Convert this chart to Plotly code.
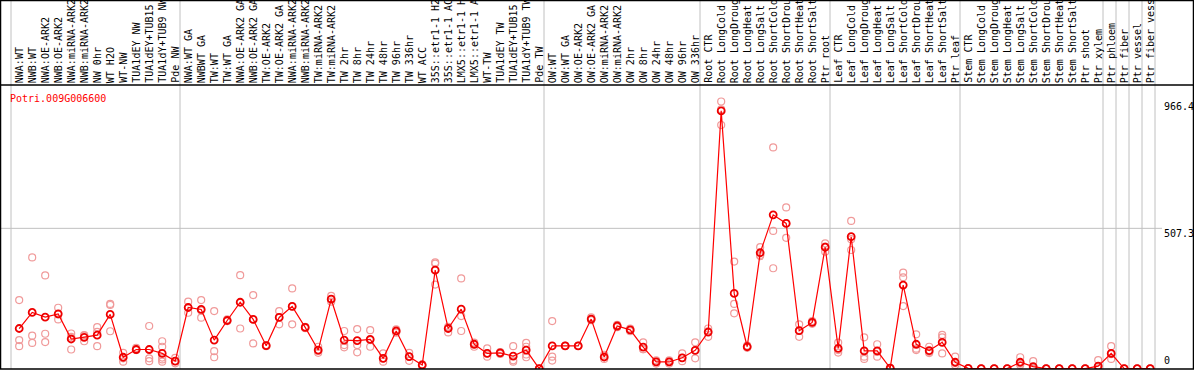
import plotly.graph_objects as go

gene = "Potri.009G006600"

labels = [
    "NWA:WT", "NWB:WT", "NWA:OE-ARK2", "NWB:OE-ARK2", "NWA:miRNA-ARK2", "NWB:miRNA-ARK2",
    "NW 0hr", "WT H2O", "WT-NW", "TUA1dEY NW", "TUA1dEY+TUB15 NW", "TUA1dY+TUB9 NW", "Pde NW",
    "NWA:WT GA", "NWBWT GA", "TW:WT", "TW:WT GA", "NWA:OE-ARK2 GA", "NWB:OE-ARK2 GA",
    "TW:OE-ARK2", "TW:OE-ARK2 GA", "NWA:miRNA-ARK2", "NWB:miRNA-ARK2", "TW:miRNA-ARK2",
    "TW:miRNA-ARK2", "TW 2hr", "TW 8hr", "TW 24hr", "TW 48hr", "TW 96hr", "TW 336hr",
    "WT ACC", "35S::etr1-1 H2O", "35S::etr1-1 ACC", "LMX5::etr1-1 H2O", "LMX5::etr1-1 ACC",
    "WT-TW", "TUA1dEY TW", "TUA1dEY+TUB15 TW", "TUA1dY+TUB9 TW", "Pde TW",
    "OW:WT", "OW:WT GA", "OW:OE-ARK2", "OW:OE-ARK2 GA", "OW:miRNA-ARK2", "OW:miRNA-ARK2",
    "OW 2hr", "OW 8hr", "OW 24hr", "OW 48hr", "OW 96hr", "OW 336hr",
    "Root CTR", "Root LongCold", "Root LongDrought", "Root LongHeat", "Root LongSalt",
    "Root ShortCold", "Root ShortDrought", "Root ShortHeat", "Root ShortSalt", "Ptr root",
    "Leaf CTR", "Leaf LongCold", "Leaf LongDrought", "Leaf LongHeat", "Leaf LongSalt",
    "Leaf ShortCold", "Leaf ShortDrought", "Leaf ShortHeat", "Leaf ShortSalt", "Ptr leaf",
    "Stem CTR", "Stem LongCold", "Stem LongDrought", "Stem LongHeat", "Stem LongSalt",
    "Stem ShortCold", "Stem ShortDrought", "Stem ShortHeat", "Stem ShortSalt", "Ptr shoot",
    "Ptr xylem", "Ptr phloem", "Ptr fiber", "Ptr vessel", "Ptr fiber vessel",
]

means = [
    145, 203, 186, 198, 107, 113, 121, 196, 41, 69, 69, 55, 27,
    221, 214, 103, 174, 240, 178, 83, 185, 225, 149, 67, 251, 103, 101, 106,
    37, 136, 43, 13, 356, 145, 215, 88, 55, 57, 45, 67, 0,
    82, 82, 82, 179, 42, 154, 140, 78, 24, 24, 39, 66,
    132, 932, 272, 79, 419, 556, 525, 137, 167, 439,
    73, 477, 64, 64, 2, 302, 88, 65, 95, 23,
    1, 0, 0, 0, 23, 7, 0, 0, 0, 0,
    9, 55, 0, 0, 0,
]

reps = [
    [248, 103, 81], [402, 119, 93], [337, 126, 96], [220, 178, 196], [127, 115, 69],
    [121, 99, 119], [150, 133, 81], [234, 230, 135], [57, 37, 25], [75, 67, 69],
    [154, 37, 27], [99, 79, 40, 33, 25], [39, 27, 19],
    [242, 221, 202], [248, 210, 184], [208, 63, 41], [178, 172, 172], [338, 145, 240],
    [266, 91, 178], [83, 81, 85], [208, 160, 186], [290, 160, 225], [151, 146, 149],
    [79, 64, 57], [263, 242, 251], [136, 85, 77], [143, 85, 59], [139, 79, 103],
    [55, 25, 37], [142, 130, 136], [57, 28, 43], [15, 10, 13], [384, 380, 304],
    [151, 131, 145], [326, 190, 136], [94, 79, 88], [73, 43, 55], [60, 53, 57],
    [81, 30, 25], [93, 79, 51, 41], [0, 0, 0],
    [172, 43, 29], [82, 82, 82], [82, 82, 82], [185, 175, 178], [50, 35, 42],
    [158, 150, 154], [145, 135, 140], [95, 70, 70], [30, 18, 24], [30, 18, 24],
    [55, 27, 39], [95, 66, 37],
    [145, 115, 135], [966, 938, 881], [387, 234, 200], [83, 75, 79], [439, 411, 407],
    [800, 498, 363], [583, 473, 525], [160, 115, 137], [172, 162, 167], [453, 423, 441],
    [94, 67, 58], [534, 429, 468], [113, 43, 35], [88, 43, 60], [2, 2, 2],
    [347, 330, 226], [124, 67, 72], [79, 60, 56], [122, 113, 55], [43, 13, 20],
    [0, 0, 0], [0, 0, 0], [0, 0, 0], [0, 0, 0], [41, 13, 18],
    [27, 0, 0], [0, 0, 0], [0, 0, 0], [0, 0, 0], [0, 0, 0],
    [31, 0, 0], [81, 35, 52], [0, 0, 0], [0, 0, 0], [0, 0, 0],
]

group_bounds = [0, 13, 41, 53, 63, 73, 84, 85, 86, 87, 88]
tick_values = [966.4, 507.3, 0]
grid_values = [507.3]

# ---- layout geometry ----
W, H = 1194, 370
L, R, T, B = 11, 39, 85, 1
PW = W - L - R
PH = H - T - B
N = len(labels)
XOFF = 0.63
YMIN, YMAX = -1.45, 1025.7

FONT = "DejaVu Sans Mono"


def px_x(p):
    return (p - L) / PW


def px_y(p):
    return (H - B - p) / PH


def val_y(v):
    return (v - YMIN) / (YMAX - YMIN)


rx, ry = [], []
for i, r in enumerate(reps):
    for v in r:
        rx.append(i)
        ry.append(v)

fig = go.Figure()
fig.add_trace(go.Scatter(
    x=rx, y=ry, mode="markers",
    marker=dict(symbol="circle-open", size=7, color="#F09A9A", line=dict(width=1.2)),
    showlegend=False, hoverinfo="skip",
))
fig.add_trace(go.Scatter(
    x=list(range(N)), y=means, mode="lines+markers",
    line=dict(color="#FF0000", width=1.2),
    marker=dict(symbol="circle-open", size=7, color="#EE0000", line=dict(width=1.8)),
    showlegend=False,
))

shapes = []
# vertical group separators spanning full height
for b in group_bounds:
    xp = px_x(L + b * PW / N)
    shapes.append(dict(type="line", xref="paper", yref="paper", x0=xp, x1=xp,
                       y0=px_y(369), y1=px_y(0), line=dict(color="#C0C0C0", width=1), layer="below"))
# horizontal grid lines
for g in grid_values:
    shapes.append(dict(type="line", xref="paper", yref="paper", x0=px_x(1), x1=px_x(1162),
                       y0=val_y(g), y1=val_y(g), line=dict(color="#C0C0C0", width=1), layer="below"))
# frame
shapes.append(dict(type="rect", xref="paper", yref="paper", x0=px_x(0.5), x1=px_x(1193.5),
                   y0=px_y(369), y1=px_y(0.5), line=dict(color="black", width=1.5)))
shapes.append(dict(type="line", xref="paper", yref="paper", x0=px_x(0), x1=px_x(1194),
                   y0=px_y(85), y1=px_y(85), line=dict(color="black", width=1.5)))

annotations = []
for i, lab in enumerate(labels):
    annotations.append(dict(x=i, xref="x", y=1, yref="paper", text=lab, textangle=-90,
                            showarrow=False, xanchor="center", yanchor="bottom", yshift=0,
                            font=dict(family=FONT, size=10, color="black")))
annotations.append(dict(x=px_x(8), xref="paper", y=px_y(91), yref="paper", text=gene,
                        showarrow=False, xanchor="left", yanchor="top",
                        font=dict(family=FONT, size=10, color="#FF0000")))
for v in tick_values:
    yp = val_y(v) if v > 0 else px_y(355)
    annotations.append(dict(x=px_x(1162), xref="paper", y=yp, yref="paper", text=f"{v:g}",
                            showarrow=False, xanchor="left", yanchor="top", yshift=2,
                            font=dict(family=FONT, size=10, color="black")))

fig.update_layout(
    width=W, height=H,
    margin=dict(l=L, r=R, t=T, b=B, pad=0),
    paper_bgcolor="white", plot_bgcolor="white",
    xaxis=dict(range=[-XOFF, N - XOFF], visible=False, fixedrange=True),
    yaxis=dict(range=[YMIN, YMAX], visible=False, fixedrange=True),
    shapes=shapes, annotations=annotations,
    showlegend=False,
)

fig.write_html(
    "out.html",
    config={"displayModeBar": False},
    post_script="document.body.style.margin='0';document.body.style.overflow='hidden';",
)
